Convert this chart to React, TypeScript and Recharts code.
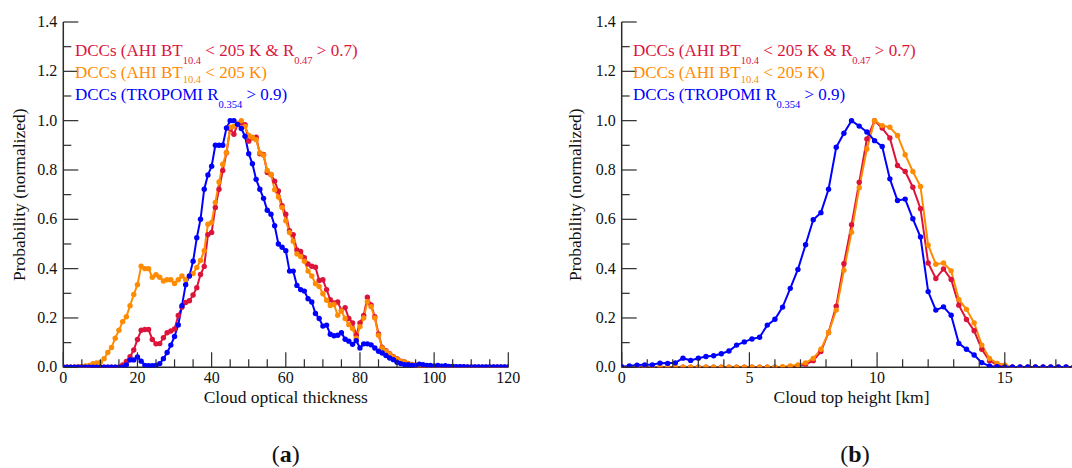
import React from 'react';
import { LineChart, Line, XAxis, YAxis } from 'recharts';

const FONT = "'Liberation Serif', 'DejaVu Serif', serif";
const AX = '#2b2b2b';
const RED = '#DC143C';
const ORANGE = '#FF8C00';
const BLUE = '#0000FF';

// ---------- Panel (a): cloud optical thickness ----------
const cotBins = Array.from({ length: 121 }, (_, i) => i);
const cotTicks = [0, 5, 10, 15, 20, 25, 30, 35, 40, 45, 50, 55, 60, 65, 70, 75, 80, 85, 90, 95, 100, 105, 110, 115, 120];
const cotRed = [
  0, 0, 0, 0, 0, 0, 0, 0, 0, 0, 0, 0, 0, 0, 0, 0, 0.01, 0.024, 0.043, 0.07,
  0.113, 0.15, 0.153, 0.153, 0.113, 0.095, 0.096, 0.12, 0.14, 0.147,
  0.155, 0.21, 0.243, 0.263, 0.27, 0.293, 0.323, 0.376, 0.409, 0.538,
  0.547, 0.648, 0.722, 0.798, 0.87, 0.968, 0.945, 0.985, 0.99, 0.984,
  0.917, 0.93, 0.933, 0.866, 0.863, 0.79, 0.782, 0.755, 0.715, 0.655,
  0.621, 0.554, 0.538, 0.476, 0.47, 0.444, 0.419, 0.41, 0.406, 0.352,
  0.355, 0.315, 0.274, 0.261, 0.265, 0.231, 0.242, 0.198, 0.18, 0.13,
  0.18, 0.21, 0.284, 0.253, 0.205, 0.135, 0.08, 0.067, 0.055, 0.043,
  0.035, 0.025, 0.022, 0.016, 0.012, 0.009, 0.007, 0.006, 0.005, 0.004,
  0.004, 0.003, 0.003, 0.002, 0.002, 0.001, 0, 0, 0, 0,
  0, 0, 0, 0, 0, 0, 0, 0, 0, 0, 0,
];
const cotOrange = [
  0, 0, 0, 0, 0.002, 0.003, 0.005, 0.008, 0.015, 0.018,
  0.02, 0.035, 0.06, 0.08, 0.118, 0.15, 0.185, 0.205, 0.25, 0.295,
  0.335, 0.41, 0.4, 0.4, 0.365, 0.375, 0.365, 0.35, 0.355, 0.355,
  0.34, 0.355, 0.37, 0.355, 0.37, 0.38, 0.405, 0.433, 0.473, 0.58,
  0.587, 0.668, 0.751, 0.823, 0.87, 0.973, 0.977, 0.99, 1.0, 0.977,
  0.94, 0.933, 0.923, 0.87, 0.86, 0.798, 0.782, 0.72, 0.69, 0.648,
  0.594, 0.547, 0.511, 0.46, 0.449, 0.43, 0.39, 0.37, 0.339, 0.328,
  0.298, 0.272, 0.251, 0.255, 0.211, 0.228, 0.198, 0.173, 0.157, 0.118,
  0.165, 0.2, 0.266, 0.246, 0.2, 0.13, 0.078, 0.065, 0.054, 0.042,
  0.034, 0.024, 0.022, 0.015, 0.011, 0.008, 0.007, 0.006, 0.005, 0.004,
  0.004, 0.003, 0.003, 0.002, 0.002, 0.001, 0, 0, 0, 0,
  0, 0, 0, 0, 0, 0, 0, 0, 0, 0, 0,
];
const cotBlue = [
  0, 0, 0, 0, 0, 0, 0, 0, 0, 0, 0, 0, 0, 0, 0, 0, 0, 0.01, 0.03, 0.03,
  0.042, 0.025, 0.008, 0.006, 0.006, 0.007, 0.015, 0.035, 0.06, 0.09,
  0.125, 0.172, 0.25, 0.335, 0.37, 0.43, 0.525, 0.6, 0.722, 0.78,
  0.815, 0.9, 0.9, 0.9, 0.97, 1.0, 1.0, 0.985, 0.968, 0.937,
  0.866, 0.825, 0.762, 0.722, 0.685, 0.637, 0.621, 0.574, 0.5, 0.487,
  0.473, 0.39, 0.39, 0.332, 0.315, 0.309, 0.278, 0.265, 0.218, 0.198,
  0.167, 0.171, 0.134, 0.128, 0.13, 0.14, 0.114, 0.106, 0.093, 0.108,
  0.078, 0.095, 0.095, 0.091, 0.078, 0.065, 0.058, 0.048, 0.038, 0.031,
  0.02, 0.015, 0.011, 0.011, 0.008, 0.008, 0.013, 0.011, 0.007, 0.007,
  0.004, 0.008, 0.004, 0.006, 0.003, 0.003, 0.002, 0.002, 0.002, 0.001,
  0.001, 0.001, 0.001, 0.001, 0.001, 0.001, 0.001, 0.001, 0.001, 0.001, 0.001,
];

// ---------- Panel (b): cloud top height ----------
const cthBins = Array.from({ length: 60 }, (_, i) => Math.round(i * 3) / 10);
const cthTicks = [0, 1, 2, 3, 4, 5, 6, 7, 8, 9, 10, 11, 12, 13, 14, 15, 16, 17, 18];
const cthRed = [
  0, 0, 0, 0, 0, 0, 0, 0, 0, 0, 0, 0, 0, 0, 0, 0, 0, 0, 0, 0, 0, 0,
  0.002, 0.005, 0.012, 0.027, 0.064, 0.141, 0.248, 0.42,
  0.578, 0.75, 0.926, 1.0, 0.97, 0.93, 0.818, 0.794, 0.73, 0.643,
  0.423, 0.36, 0.399, 0.356, 0.252, 0.194, 0.148, 0.073, 0.027, 0.01,
  0.005, 0, 0, 0, 0, 0, 0, 0, 0, 0,
];
const cthOrange = [
  0, 0, 0, 0, 0, 0, 0, 0, 0, 0, 0, 0, 0, 0, 0, 0, 0, 0, 0, 0, 0,
  0.002, 0.005, 0.01, 0.018, 0.036, 0.073, 0.141, 0.232, 0.393,
  0.548, 0.728, 0.885, 1.0, 0.98, 0.973, 0.94, 0.862, 0.794, 0.733,
  0.495, 0.418, 0.423, 0.391, 0.275, 0.235, 0.18, 0.09, 0.036, 0.016,
  0.01, 0, 0, 0, 0, 0, 0, 0, 0, 0,
];
const cthBlue = [
  0.002, 0.005, 0.009, 0.01, 0.01, 0.017, 0.016, 0.018, 0.037, 0.028,
  0.037, 0.044, 0.047, 0.055, 0.066, 0.09, 0.103, 0.115, 0.122, 0.171,
  0.195, 0.244, 0.32, 0.397, 0.497, 0.598, 0.627, 0.722, 0.892, 0.949,
  1.0, 0.978, 0.954, 0.919, 0.895, 0.764, 0.676, 0.682, 0.602, 0.528,
  0.307, 0.232, 0.245, 0.211, 0.097, 0.073, 0.05, 0.019, 0.005, 0.002,
  0.001, 0.001, 0.001, 0.001, 0.001, 0.001, 0.001, 0.001, 0.001, 0.001,
];

const probTicks = [0, 0.1, 0.2, 0.3, 0.4, 0.5, 0.6, 0.7, 0.8, 0.9, 1.0, 1.1, 1.2, 1.3, 1.4];

const mkData = (xs: number[], r: number[], o: number[], b: number[]) =>
  xs.map((x, i) => ({ x, red: r[i], orange: o[i], blue: b[i] }));
const cotData = mkData(cotBins, cotRed, cotOrange, cotBlue);
const cthData = mkData(cthBins, cthRed, cthOrange, cthBlue);

const X_AXIS_H = 30;

type Side = 'bottom' | 'top' | 'left' | 'right';
const makeTick = (side: Side, isMajor: (v: number) => boolean, label: boolean, fmt: (v: number) => string) =>
  (props: any) => {
    const { x, y, payload } = props;
    const v = payload.value as number;
    const maj = isMajor(v);
    const L = maj ? 15 : 8;
    let ln: any = null;
    if (side === 'bottom') ln = <line x1={x} x2={x} y1={y} y2={y - L} />;
    if (side === 'top') ln = <line x1={x} x2={x} y1={y} y2={y + L} />;
    if (side === 'left') ln = <line x1={x} x2={x + L} y1={y} y2={y} />;
    if (side === 'right') ln = <line x1={x} x2={x - L} y1={y} y2={y} />;
    return (
      <g stroke={AX} strokeWidth={1.2}>
        {ln}
        {label && maj && side === 'bottom' && (
          <text x={x} y={y + 16} textAnchor="middle" fill="#111" stroke="none" fontSize={16} style={{ fontFamily: FONT }}>
            {fmt(v)}
          </text>
        )}
        {label && maj && side === 'left' && (
          <text x={x - 6} y={y + 5} textAnchor="end" fill="#111" stroke="none" fontSize={16} style={{ fontFamily: FONT }}>
            {fmt(v)}
          </text>
        )}
      </g>
    );
  };

const yMajor = (v: number) => Math.round(v * 10) % 2 === 0;
const yFmt = (v: number) => v.toFixed(1);
const axisLine = { stroke: AX, strokeWidth: 1.5 };

function Panel(props: {
  data: any[];
  left: number;
  width: number;
  yAxisW: number;
  rightM: number;
  xMax: number;
  xTicks: number[];
  xMajor: (v: number) => boolean;
}) {
  const { data, left, width, yAxisW, rightM, xMax, xTicks, xMajor } = props;
  const dot = (c: string) => ({ r: 2.7, fill: c, stroke: c, strokeWidth: 0 });
  return (
    <div style={{ position: 'absolute', left, top: 0 }}>
      <LineChart width={width} height={468} data={data}
        margin={{ top: 22, right: rightM, bottom: 100.7 - X_AXIS_H, left: 0 }}>
        <XAxis xAxisId="b" dataKey="x" type="number" domain={[0, xMax]} ticks={xTicks} interval={0}
          orientation="bottom" height={X_AXIS_H} tickSize={0} tickMargin={0} tickLine={false} axisLine={axisLine}
          tick={makeTick('bottom', xMajor, true, (v) => String(v))} allowDataOverflow />
        <XAxis xAxisId="t" dataKey="x" type="number" domain={[0, xMax]} ticks={xTicks} interval={0}
          orientation="top" height={0} tickSize={0} tickMargin={0} tickLine={false} axisLine={axisLine}
          tick={makeTick('top', xMajor, false, (v) => String(v))} allowDataOverflow />
        <YAxis yAxisId="l" type="number" domain={[0, 1.4]} ticks={probTicks} interval={0}
          orientation="left" width={yAxisW} tickSize={0} tickMargin={0} tickLine={false} axisLine={axisLine}
          tick={makeTick('left', yMajor, true, yFmt)} allowDataOverflow />
        <YAxis yAxisId="r" type="number" domain={[0, 1.4]} ticks={probTicks} interval={0}
          orientation="right" width={0} tickSize={0} tickMargin={0} tickLine={false} axisLine={axisLine}
          tick={makeTick('right', yMajor, false, yFmt)} allowDataOverflow />
        <Line xAxisId="b" yAxisId="l" type="linear" dataKey="red" stroke={RED} strokeWidth={2}
          dot={dot(RED)} activeDot={false} isAnimationActive={false} />
        <Line xAxisId="b" yAxisId="l" type="linear" dataKey="orange" stroke={ORANGE} strokeWidth={2}
          dot={dot(ORANGE)} activeDot={false} isAnimationActive={false} />
        <Line xAxisId="b" yAxisId="l" type="linear" dataKey="blue" stroke={BLUE} strokeWidth={2}
          dot={dot(BLUE)} activeDot={false} isAnimationActive={false} />
      </LineChart>
    </div>
  );
}

function LegendBlock({ x }: { x: number }) {
  const ss = 10.5;
  return (
    <g style={{ fontFamily: FONT, fontSize: 17 }}>
      <text x={x} y={56} fill={RED}>
        DCCs (AHI BT<tspan fontSize={ss} dy={8}>10.4</tspan>
        <tspan dy={-8}> &lt; 205 K &amp; R</tspan>
        <tspan fontSize={ss} dy={8}>0.47</tspan>
        <tspan dy={-8}> &gt; 0.7)</tspan>
      </text>
      <text x={x} y={78} fill={ORANGE}>
        DCCs (AHI BT<tspan fontSize={ss} dy={5}>10.4</tspan>
        <tspan dy={-5}> &lt; 205 K)</tspan>
      </text>
      <text x={x} y={99.5} fill={BLUE}>
        DCCs (TROPOMI R<tspan fontSize={ss} dy={8}>0.354</tspan>
        <tspan dy={-8}> &gt; 0.9)</tspan>
      </text>
    </g>
  );
}

export default function App() {
  return (
    <div style={{ position: 'absolute', left: 0, top: 0, width: 1072, height: 468, overflow: 'hidden', background: '#fff', fontFamily: FONT }}>
      <Panel data={cotData} left={0} width={560} yAxisW={63.3} rightM={51.7} xMax={120} xTicks={cotTicks}
        xMajor={(v) => v % 20 === 0} />
      <Panel data={cthData} left={560} width={560} yAxisW={61.7} rightM={38.6} xMax={18} xTicks={cthTicks}
        xMajor={(v) => v % 5 === 0} />
      <svg width={1072} height={468} style={{ position: 'absolute', left: 0, top: 0, pointerEvents: 'none', fontFamily: FONT }}>
        <LegendBlock x={75} />
        <LegendBlock x={633} />
        <g style={{ fontFamily: FONT, fontSize: 17.5 }} fill="#111">
          <text x={285.8} y={402.5} textAnchor="middle">Cloud optical thickness</text>
          <text x={851.5} y={402.5} textAnchor="middle">Cloud top height [km]</text>
          <text transform="translate(25,194.7) rotate(-90)" textAnchor="middle">Probability (normalized)</text>
          <text transform="translate(581,194.7) rotate(-90)" textAnchor="middle">Probability (normalized)</text>
        </g>
        <g style={{ fontFamily: FONT, fontSize: 24 }} fill="#111">
          <text x={285.8} y={462} textAnchor="middle">(<tspan fontWeight="bold">a</tspan>)</text>
          <text x={855} y={462} textAnchor="middle">(<tspan fontWeight="bold">b</tspan>)</text>
        </g>
      </svg>
    </div>
  );
}
